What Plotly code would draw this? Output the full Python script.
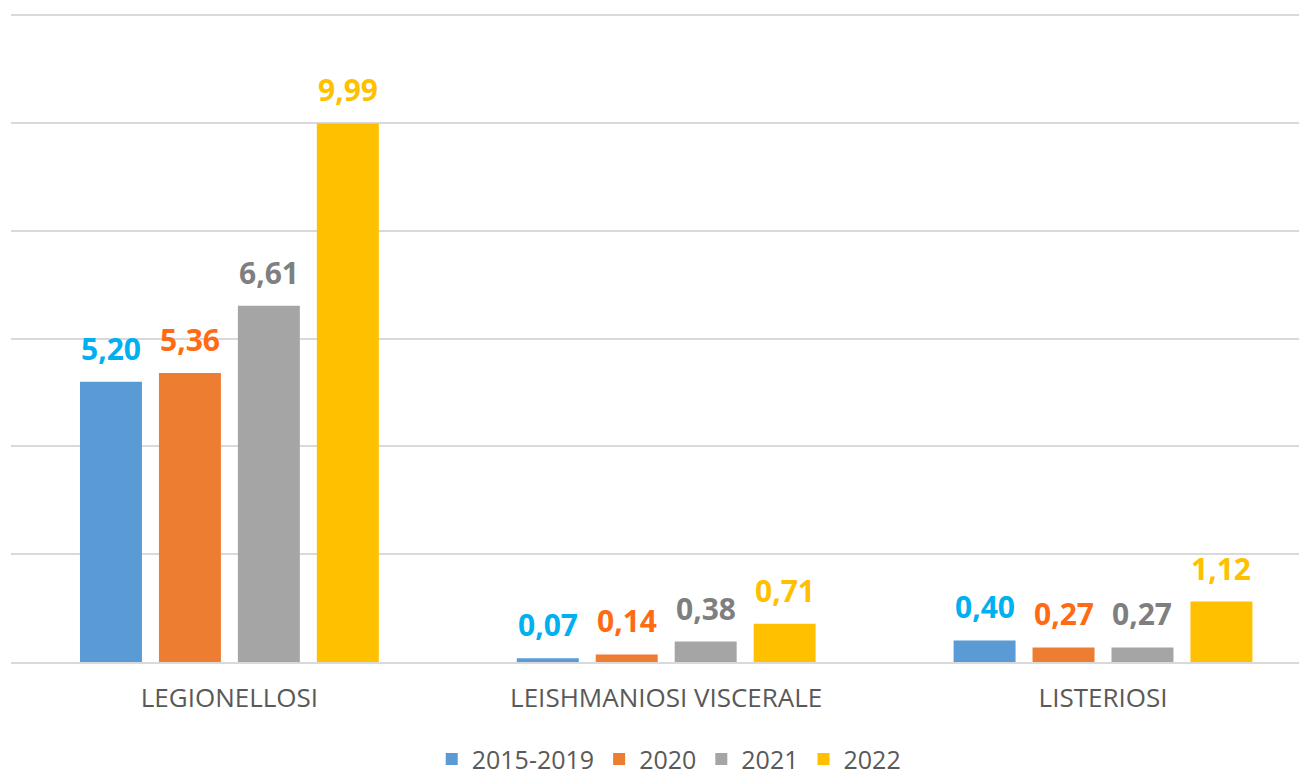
import plotly.graph_objects as go

categories = ["LEGIONELLOSI", "LEISHMANIOSI VISCERALE", "LISTERIOSI"]
series_names = ["2015-2019", "2020", "2021", "2022"]
values_2015_2019 = [5.20, 0.07, 0.40]
values_2020 = [5.36, 0.14, 0.27]
values_2021 = [6.61, 0.38, 0.27]
values_2022 = [9.99, 0.71, 1.12]
all_values = [values_2015_2019, values_2020, values_2021, values_2022]

bar_colors = ["#5B9BD5", "#ED7D31", "#A5A5A5", "#FFC000"]
label_colors = ["#00B0F0", "#FF6A13", "#7F7F7F", "#FFC000"]

# the page body adds an 8px offset; margins are set so the plot lands where the reference has it
W, H = 1307, 777
ML, MR, MT, MB = 3, 8, 6, 123
XR = [-0.5, 2.467]
BARGAP = 0.277
BARGROUPGAP = 0.215

FONT = "Open Sans"

fig = go.Figure()
for name, vals, col in zip(series_names, all_values, bar_colors):
    fig.add_trace(go.Bar(x=categories, y=vals, name=name, marker=dict(color=col, line=dict(width=0))))

# data labels as annotations above each bar
plot_w = W - ML - MR
px_per_unit = plot_w / (XR[1] - XR[0])
n = len(series_names)
step = px_per_unit * (1 - BARGAP) / n
for i, (vals, lc) in enumerate(zip(all_values, label_colors)):
    for cat, v in zip(categories, vals):
        fig.add_annotation(
            x=cat, y=v, xref="x", yref="y",
            text="<b>" + f"{v:.2f}".replace(".", ",") + "</b>",
            showarrow=False, xanchor="center", yanchor="bottom",
            xshift=(i - (n - 1) / 2) * step, yshift=11,
            font=dict(family=FONT, size=30, color=lc),
        )

fig.update_layout(
    width=W, height=H,
    margin=dict(l=ML, r=MR, t=MT, b=MB, autoexpand=False),
    paper_bgcolor="white", plot_bgcolor="white",
    barmode="group", bargap=BARGAP, bargroupgap=BARGROUPGAP,
    showlegend=True,
    legend=dict(orientation="h", x=0.5075, xanchor="center", y=0.033, yref="container", yanchor="middle",
                font=dict(family=FONT, size=25, color="#595959"), itemclick=False,
                borderwidth=0, tracegroupgap=0),
    font=dict(family=FONT),
)
fig.update_xaxes(range=XR, showgrid=False, showline=True, linecolor="#D9D9D9", linewidth=2,
                 ticks="", ticklabelstandoff=12, automargin=False,
                 tickfont=dict(family=FONT, size=26, color="#595959"))
fig.update_yaxes(range=[0, 12.02], dtick=2, showgrid=True, gridcolor="#D9D9D9", gridwidth=2,
                 showticklabels=False, zeroline=False, ticks="", automargin=False)

fig.write_html("out.html")
